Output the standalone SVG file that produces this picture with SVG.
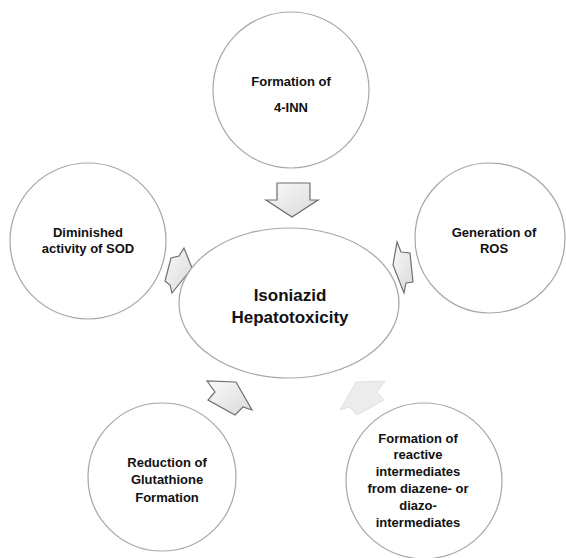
<svg xmlns="http://www.w3.org/2000/svg" width="566" height="558" viewBox="0 0 566 558">
<defs>
<linearGradient id="ag" x1="0" y1="0" x2="1" y2="1">
<stop offset="0" stop-color="#fafafa"/>
<stop offset="1" stop-color="#d9d9d9"/>
</linearGradient>
<style>
.node{fill:#ffffff;stroke:#a6a6a6;stroke-width:1.2}
.arrow{fill:url(#ag);stroke:#6e6e6e;stroke-width:1.2;stroke-linejoin:miter}
.pale{fill:#ececec;stroke:#e2e2e2;stroke-width:1}
.t{font-family:"Liberation Sans",Arial,sans-serif;font-weight:bold;font-size:13px;fill:#111;text-anchor:middle}
.tc{font-family:"Liberation Sans",Arial,sans-serif;font-weight:bold;font-size:17px;fill:#111;text-anchor:middle}
</style>
</defs>
<rect width="566" height="558" fill="#ffffff"/>
<g id="connectors">
<polygon class="arrow" points="277,183 310,183 310,200 318,200 292,217 266,200 277,200"/>
<polygon class="arrow" points="393,265 397,242 401,252 410,253 413,282 406,283 404,293"/>
<polygon class="arrow" points="192,268 184,248 179,256 171,258 165,281 170,285 172,293"/>
<polygon class="arrow" points="236,382 252,410 243,407 235,415 208,400 215,392 207,381"/>
<polygon class="pale" points="356,382 385,381 377,392 384,400 357,415 349,407 340,410"/>
</g>
<g id="center">
<ellipse class="node" cx="289" cy="303" rx="110" ry="75" stroke="#999"/>
<text class="tc" x="290" y="301">Isoniazid</text>
<text class="tc" x="290" y="323">Hepatotoxicity</text>
</g>
<g id="n-4inn">
<circle class="node" cx="291" cy="90" r="78"/>
<text class="t" x="291" y="86">Formation of</text>
<text class="t" x="291" y="112">4-INN</text>
</g>
<g id="n-ros">
<circle class="node" cx="490" cy="238" r="75"/>
<text class="t" x="494" y="237">Generation of</text>
<text class="t" x="494" y="253">ROS</text>
</g>
<g id="n-reactive">
<circle class="node" cx="424" cy="481" r="78"/>
<text class="t" x="418" y="443">Formation of</text>
<text class="t" x="418" y="459">reactive</text>
<text class="t" x="418" y="476">intermediates</text>
<text class="t" x="418" y="493">from diazene- or</text>
<text class="t" x="418" y="510">diazo-</text>
<text class="t" x="418" y="527">intermediates</text>
</g>
<g id="n-glutathione">
<circle class="node" cx="162" cy="477" r="74"/>
<text class="t" x="167" y="467">Reduction of</text>
<text class="t" x="167" y="484">Glutathione</text>
<text class="t" x="167" y="502">Formation</text>
</g>
<g id="n-sod">
<circle class="node" cx="88" cy="241" r="78"/>
<text class="t" x="88" y="237">Diminished</text>
<text class="t" x="88" y="253">activity of SOD</text>
</g>
</svg>
